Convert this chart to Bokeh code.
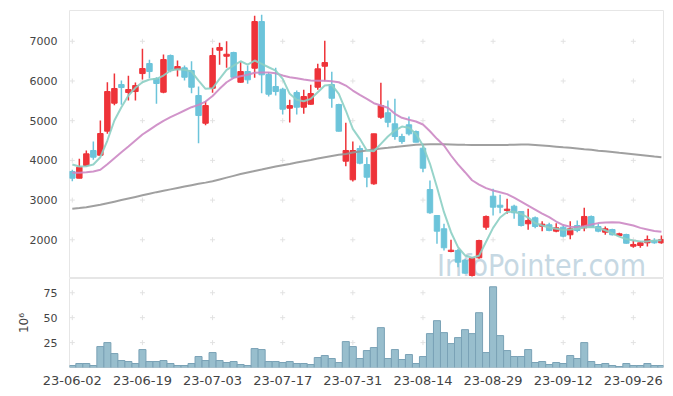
from itertools import product
from bokeh.plotting import figure
from bokeh.layouts import column
from bokeh.models import FixedTicker, ColumnDataSource, Label, Range1d
from bokeh.embed import file_html
from bokeh.resources import INLINE

# ---- data ----
opens = [3720, 3551, 3871, 4249, 4130, 4735, 5440, 5910, 5709, 5734,
         6187, 6439, 6061, 5717, 6641, 6288, 6331, 6263, 5633, 4936,
         5817, 6774, 6623, 6716, 5968, 6238, 6321, 7497, 6162, 5860,
         5792, 5314, 5709, 5339, 5414, 5842, 6371, 5910, 5407, 3979,
         3511, 4299, 3896, 3410, 5087, 5198, 4921, 4601, 4896, 4727,
         4307, 3266, 2612, 2277, 1705, 1731, 1479, 1101, 1547, 2317,
         3098, 2871, 2738, 2846, 2713, 2403, 2554, 2342, 2378, 2217,
         2317, 2126, 2360, 2302, 2587, 2335, 2191, 2259, 2108, 2133,
         1839, 1856, 1924, 1982, 1924]
highs = [3762, 4040, 4249, 4475, 5004, 5968, 6187, 6011, 6130, 5961,
         6810, 6532, 6094, 6666, 6666, 6515, 6389, 6497, 5860, 5490,
         6834, 6960, 7001, 6734, 6472, 6389, 7640, 7665, 6220, 6331,
         5827, 5525, 5759, 5777, 5903, 6432, 7011, 6230, 5424, 4946,
         4475, 4374, 4080, 4669, 5953, 5508, 5550, 4669, 5105, 4752,
         4417, 3493, 2612, 2403, 2000, 1773, 1522, 1562, 2000, 2612,
         3284, 3133, 3032, 2881, 2713, 2781, 2587, 2468, 2428, 2418,
         2360, 2468, 2486, 2806, 2612, 2403, 2335, 2277, 2176, 2151,
         1982, 1957, 2108, 2040, 2108]
lows = [3475, 3551, 3846, 4014, 4130, 4669, 5389, 5399, 5508, 5508,
        6036, 6069, 5425, 5692, 6220, 6112, 6011, 5692, 4432, 4886,
        5701, 6406, 6331, 6069, 5953, 5928, 6079, 5692, 5608, 5633,
        5155, 4954, 5155, 5172, 5399, 5777, 5994, 5324, 4725, 3853,
        3468, 3900, 3324, 3385, 5047, 4835, 4518, 4417, 4626, 4458,
        3702, 2655, 1899, 1731, 1688, 1310, 1144, 1076, 1522, 2252,
        2612, 2670, 2655, 2529, 2335, 2252, 2292, 2217, 2217, 2191,
        2065, 2015, 2191, 2217, 2302, 2191, 2126, 2108, 2101, 1899,
        1799, 1799, 1831, 1899, 1899]
closes = [3551, 3828, 4165, 4080, 4677, 5734, 5810, 5835, 5785, 5885,
          6313, 6238, 5936, 6540, 6263, 6364, 6094, 5842, 5130, 5381,
          6641, 6842, 6673, 6094, 6238, 6029, 7497, 6155, 5666, 5734,
          5289, 5381, 5339, 5608, 5684, 6306, 6464, 5565, 4735, 4249,
          4249, 3929, 3576, 4669, 5381, 4961, 4601, 4475, 4669, 4458,
          3803, 2680, 2217, 1799, 1738, 1436, 1159, 1537, 1982, 2587,
          2821, 2821, 2771, 2680, 2360, 2486, 2335, 2393, 2234, 2302,
          2091, 2277, 2234, 2587, 2317, 2217, 2277, 2126, 2151, 1914,
          1882, 1924, 2008, 1924, 2008]
ma5 = [3896, 3846, 3853, 3896, 4080, 4500, 5004, 5339, 5633, 5827,
       5968, 6036, 6054, 6137, 6263, 6296, 6281, 6238, 6011, 5802,
       5817, 6054, 6281, 6389, 6497, 6414, 6515, 6432, 6346, 6263,
       6054, 5676, 5525, 5490, 5550, 5717, 5885, 5903, 5676, 5256,
       4795, 4543, 4249, 4230, 4417, 4601, 4752, 4853, 4820, 4669,
       4374, 3914, 3324, 2695, 2191, 1814, 1605, 1547, 1600, 1950,
       2300, 2560, 2700, 2710, 2650, 2560, 2420, 2360, 2310, 2280,
       2250, 2260, 2280, 2310, 2320, 2300, 2240, 2160, 2080, 2020,
       1980, 1960, 1960, 1980, 1990]
ma20 = [3687, 3687, 3702, 3720, 3762, 3904, 4055, 4206, 4349, 4500,
        4652, 4770, 4886, 4996, 5087, 5173, 5256, 5339, 5399, 5482,
        5620, 5802, 5968, 6079, 6120, 6155, 6205, 6212, 6212, 6195,
        6137, 6094, 6069, 6036, 6011, 6003, 6003, 5994, 5968, 5885,
        5759, 5650, 5550, 5440, 5381, 5324, 5173, 5072, 5022, 4979,
        4903, 4735, 4543, 4374, 4123, 3900, 3702, 3500, 3390, 3300,
        3241, 3199, 3150, 3060, 2960, 2860, 2760, 2660, 2570, 2460,
        2370, 2330, 2317, 2340, 2385, 2420, 2436, 2440, 2436, 2400,
        2360, 2300, 2260, 2220, 2200]
ma120 = [2781, 2800, 2820, 2850, 2880, 2920, 2960, 3000, 3040, 3080,
         3120, 3160, 3200, 3235, 3270, 3305, 3340, 3375, 3410, 3440,
         3475, 3520, 3565, 3610, 3655, 3695, 3735, 3770, 3810, 3846,
         3880, 3910, 3945, 3980, 4010, 4045, 4080, 4110, 4140, 4160,
         4200, 4225, 4250, 4275, 4300, 4317, 4335, 4355, 4375, 4395,
         4400, 4405, 4407, 4405, 4400, 4395, 4392, 4390, 4388, 4385,
         4385, 4385, 4390, 4395, 4400, 4398, 4390, 4375, 4360, 4345,
         4330, 4317, 4300, 4282, 4265, 4245, 4228, 4210, 4192, 4175,
         4155, 4135, 4115, 4095, 4080]
volume = [2, 4, 4, 2, 21, 25, 14, 7, 6, 4,
          18, 6, 6, 7, 4, 2, 2, 4, 11, 7,
          15, 7, 5, 6, 3, 2, 19, 18, 6, 6,
          5, 6, 4, 4, 3, 10, 12, 9, 5, 26,
          21, 9, 17, 20, 40, 9, 18, 8, 13, 4,
          11, 34, 47, 35, 24, 30, 38, 34, 55, 15,
          81, 32, 17, 11, 11, 18, 5, 6, 3, 5,
          4, 12, 9, 25, 6, 3, 4, 2, 1, 4,
          2, 2, 4, 2, 2]
tick_idx = [0, 10, 20, 30, 40, 50, 60, 70, 80]
tick_labels = ["23-06-02", "23-06-19", "23-07-03", "23-07-17", "23-07-31",
               "23-08-14", "23-08-29", "23-09-12", "23-09-26"]
price_ticks = [2000, 3000, 4000, 5000, 6000, 7000]
vol_ticks = [25, 50, 75]

# ---- styles ----
UP = "#ee3339"
DOWN = "#6cc4da"
FONT = "DejaVu Sans"
LABEL_COLOR = "#444444"
OUTLINE = "#e6e6e6"
CROSS = "#e2e2e2"

idx = list(range(len(closes)))
colors = [UP if c >= o else DOWN for o, c in zip(opens, closes)]
src = ColumnDataSource(dict(
    x=idx, open=opens, high=highs, low=lows, close=closes,
    top=[max(o, c) for o, c in zip(opens, closes)],
    bottom=[min(o, c) for o, c in zip(opens, closes)],
    color=colors, ma5=ma5, ma20=ma20, ma120=ma120, vol=volume,
))

xr = Range1d(-0.4, 84.3)

top = figure(frame_width=594, frame_height=268, x_range=xr,
             y_range=Range1d(1025, 7775), output_backend="svg",
             toolbar_location=None, x_axis_location=None,
             min_border_left=69, min_border_right=4, min_border_top=10,
             min_border_bottom=0)
top.outline_line_color = OUTLINE
top.xgrid.visible = False
top.ygrid.visible = False

wm = Label(x=52.0, y=1360, text="InfoPointer.com",
           text_font="DejaVu Sans Condensed",
           text_font_size="30px", text_color="#c6d8e3",
           text_baseline="alphabetic", level="underlay")
top.add_layout(wm)

gx, gy = zip(*product(tick_idx, price_ticks))
top.scatter(list(gx), list(gy), marker="cross", size=5, line_color=CROSS,
            line_width=1)

top.segment(x0="x", x1="x", y0="low", y1="high", color="color",
            line_width=1.5, source=src)
top.vbar(x="x", width=0.78, top="top", bottom="bottom", fill_color="color",
         line_color="color", source=src)

top.line("x", "ma120", source=src, line_color="#969696", line_width=2,
         line_alpha=0.9)
top.line("x", "ma20", source=src, line_color="#cc88c4", line_width=2,
         line_alpha=0.9)
top.line("x", "ma5", source=src, line_color="#8ccfc4", line_width=2,
         line_alpha=0.9)

ya = top.yaxis[0]
ya.ticker = FixedTicker(ticks=price_ticks)
ya.axis_line_color = None
ya.major_tick_line_color = None
ya.minor_tick_line_color = None
ya.major_label_standoff = 6
ya.major_label_text_font = FONT
ya.major_label_text_font_size = "11px"
ya.major_label_text_color = LABEL_COLOR

vol = figure(frame_width=594, frame_height=89, x_range=xr,
             y_range=Range1d(0, 89.3), output_backend="svg",
             toolbar_location=None, min_border_left=69, min_border_right=4,
             min_border_top=0, min_border_bottom=22)
vol.outline_line_color = OUTLINE
vol.xgrid.visible = False
vol.ygrid.visible = False

vx, vy = zip(*product(tick_idx, vol_ticks))
vol.scatter(list(vx), list(vy), marker="cross", size=5, line_color=CROSS,
            line_width=1)
vol.vbar(x="x", width=1.0, top="vol", bottom=0, fill_color="#98becd",
         line_color="#7aa2b6", line_width=1, source=src)

xa = vol.xaxis[0]
xa.ticker = FixedTicker(ticks=tick_idx)
xa.major_label_overrides = {i: s for i, s in zip(tick_idx, tick_labels)}
xa.axis_line_color = None
xa.major_tick_line_color = None
xa.minor_tick_line_color = None
xa.major_label_standoff = 2
xa.major_label_text_font = FONT
xa.major_label_text_font_size = "13px"
xa.major_label_text_color = LABEL_COLOR

vya = vol.yaxis[0]
vya.ticker = FixedTicker(ticks=vol_ticks)
vya.axis_line_color = None
vya.major_tick_line_color = None
vya.minor_tick_line_color = None
vya.major_label_standoff = 6
vya.major_label_text_font = FONT
vya.major_label_text_font_size = "11px"
vya.major_label_text_color = LABEL_COLOR
vya.axis_label = "10\u2076"
vya.axis_label_text_font = FONT
vya.axis_label_text_font_size = "12px"
vya.axis_label_text_font_style = "normal"
vya.axis_label_text_color = LABEL_COLOR
vya.axis_label_standoff = 10

layout = column(top, vol, spacing=0)
open("out.html", "w").write(file_html(layout, INLINE))
